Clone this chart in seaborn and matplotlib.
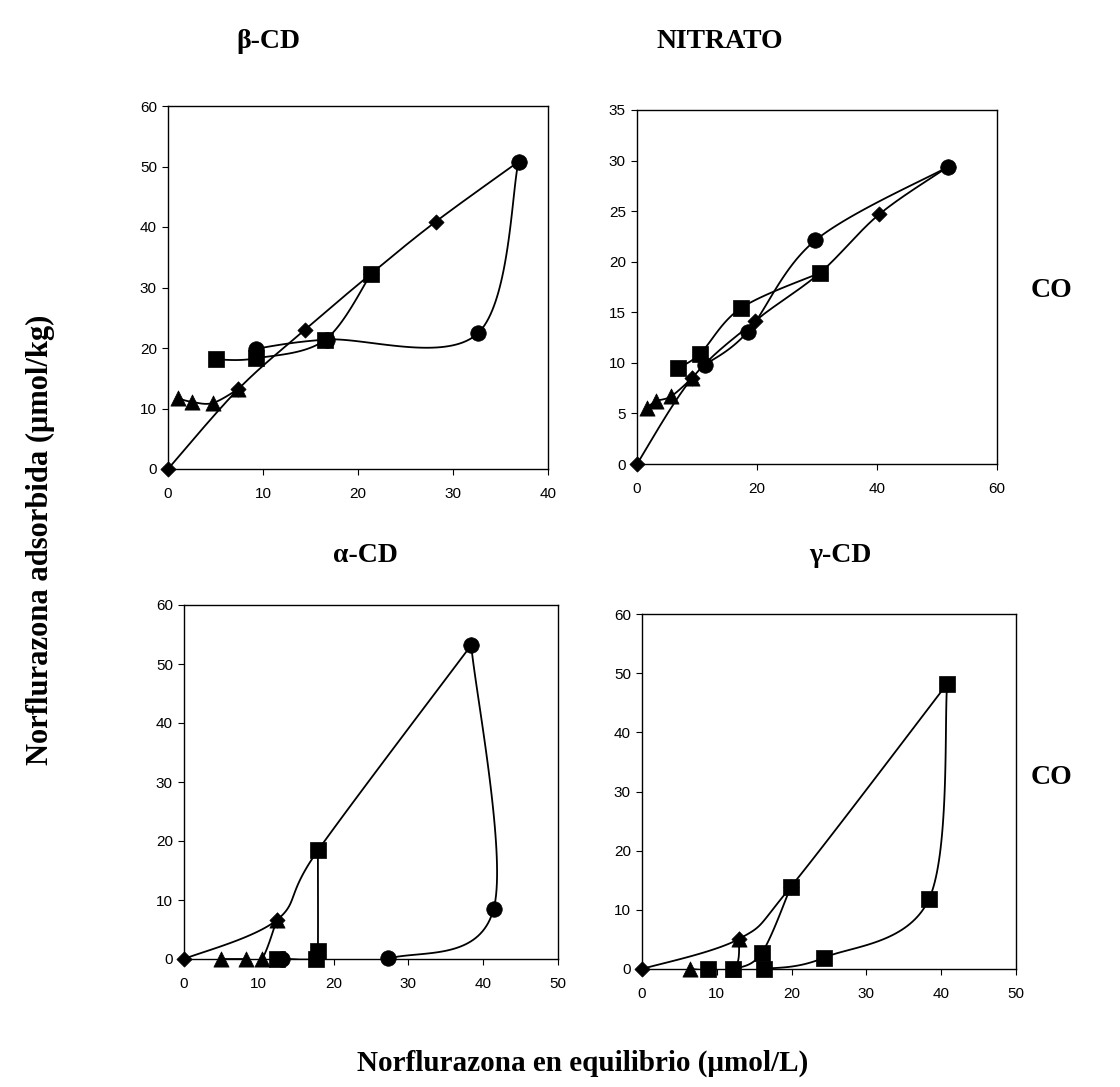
import numpy as np
import pandas as pd
import matplotlib
matplotlib.use("Agg")
import matplotlib.pyplot as plt
import seaborn as sns

# ---------------- data ----------------
# beta-CD
bcd_ads_x = [0, 7.4, 14.4, 21.4, 28.2, 36.9]
bcd_ads_y = [0, 13.2, 23.0, 32.3, 40.9, 50.8]
bcd_tri_x = [7.4, 4.7, 2.5, 1.0]
bcd_tri_y = [13.2, 10.9, 11.1, 11.7]
bcd_sq_x = [21.4, 16.5, 9.3, 5.1]
bcd_sq_y = [32.3, 21.3, 18.3, 18.1]
bcd_ci_x = [36.9, 32.6, 16.7, 9.3]
bcd_ci_y = [50.8, 22.4, 21.4, 19.9]

# NITRATO
nit_ads_x = [0, 9.2, 19.6, 30.5, 40.4, 51.9]
nit_ads_y = [0, 8.5, 14.1, 18.9, 24.7, 29.4]
nit_tri_x = [9.2, 5.7, 3.1, 1.6]
nit_tri_y = [8.5, 6.7, 6.2, 5.5]
nit_sq_x = [30.5, 17.3, 10.5, 6.8]
nit_sq_y = [18.9, 15.4, 10.9, 9.5]
nit_ci_x = [51.9, 29.7, 18.5, 11.3]
nit_ci_y = [29.4, 22.1, 13.1, 9.8]

# alpha-CD
acd_ads_x = [0, 12.4, 17.9, 38.4]
acd_ads_y = [0, 6.6, 18.4, 53.2]
acd_tri_x = [12.4, 10.4, 8.3, 5.0]
acd_tri_y = [6.6, 0, 0, 0]
acd_sq_x = [17.9, 17.9, 17.7, 12.4]
acd_sq_y = [18.4, 1.3, 0, 0]
acd_ci_x = [38.4, 41.4, 27.3, 13.1]
acd_ci_y = [53.2, 8.5, 0.1, 0]

# gamma-CD
gcd_ads_x = [0, 13.0, 19.9, 40.8]
gcd_ads_y = [0, 5.1, 13.9, 48.2]
gcd_tri_x = [13.0, 12.2, 6.4]
gcd_tri_y = [5.1, 0, 0]
gcd_sq_x = [19.9, 16.0, 12.2, 8.8]
gcd_sq_y = [13.9, 2.7, 0, 0]
gcd_sq2_x = [40.8, 38.4, 24.3, 16.3]
gcd_sq2_y = [48.2, 11.9, 1.9, 0]

titles = ["β-CD", "NITRATO", "α-CD", "γ-CD"]
ylabel = "Norflurazona adsorbida (μmol/kg)"
xlabel = "Norflurazona en equilibrio (μmol/L)"
side_label = "CO"

panels = [
    dict(series=[(bcd_ads_x, bcd_ads_y, "D"), (bcd_tri_x, bcd_tri_y, "^"),
                 (bcd_sq_x, bcd_sq_y, "s"), (bcd_ci_x, bcd_ci_y, "o")],
         xlim=(0, 40), xt=[0, 10, 20, 30, 40], ylim=(0, 60), yt=[0, 10, 20, 30, 40, 50, 60],
         rect=[168, 106, 548, 469]),
    dict(series=[(nit_ads_x, nit_ads_y, "D"), (nit_tri_x, nit_tri_y, "^"),
                 (nit_sq_x, nit_sq_y, "s"), (nit_ci_x, nit_ci_y, "o")],
         xlim=(0, 60), xt=[0, 20, 40, 60], ylim=(0, 35), yt=[0, 5, 10, 15, 20, 25, 30, 35],
         rect=[637, 110, 997, 464]),
    dict(series=[(acd_ads_x, acd_ads_y, "D"), (acd_tri_x, acd_tri_y, "^"),
                 (acd_sq_x, acd_sq_y, "s"), (acd_ci_x, acd_ci_y, "o")],
         xlim=(0, 50), xt=[0, 10, 20, 30, 40, 50], ylim=(0, 60), yt=[0, 10, 20, 30, 40, 50, 60],
         rect=[184, 605, 558, 959]),
    dict(series=[(gcd_ads_x, gcd_ads_y, "D"), (gcd_tri_x, gcd_tri_y, "^"),
                 (gcd_sq_x, gcd_sq_y, "s"), (gcd_sq2_x, gcd_sq2_y, "s")],
         xlim=(0, 50), xt=[0, 10, 20, 30, 40, 50], ylim=(0, 60), yt=[0, 10, 20, 30, 40, 50, 60],
         rect=[642, 614, 1016, 969]),
]


def smooth(xs, ys, n=40):
    """Excel-style smoothed line (Bezier with Catmull-Rom control points)."""
    P = np.column_stack([xs, ys]).astype(float)
    if len(P) < 3:
        return P[:, 0], P[:, 1]
    ext = np.vstack([P[0], P, P[-1]])
    out = []
    t = np.linspace(0, 1, n)[:, None]
    for i in range(1, len(ext) - 2):
        p0, p1, p2, p3 = ext[i - 1], ext[i], ext[i + 1], ext[i + 2]
        b1 = p1 + (p2 - p0) / 6.0
        b2 = p2 - (p3 - p1) / 6.0
        seg = ((1 - t) ** 3) * p1 + 3 * ((1 - t) ** 2) * t * b1 + 3 * (1 - t) * t ** 2 * b2 + t ** 3 * p2
        out.append(seg if i == 1 else seg[1:])
    S = np.vstack(out)
    return S[:, 0], S[:, 1]


sns.set_style("ticks")
plt.rcParams["font.family"] = ["Liberation Sans", "DejaVu Sans"]
plt.rcParams["text.color"] = "black"

W, H = 1120, 1087
fig = plt.figure(figsize=(W / 100, H / 100), dpi=100)

msize = {"D": 60, "^": 120, "s": 130, "o": 125}
order = {"D": 0, "^": 1, "o": 2, "s": 3}

for p in panels:
    l, t, r, b = p["rect"]
    ax = fig.add_axes([l / W, 1 - b / H, (r - l) / W, (b - t) / H])
    # lines
    for k, (xs, ys, m) in enumerate(p["series"]):
        sx, sy = smooth(xs, ys)
        df = pd.DataFrame({"x": sx, "y": sy})
        sns.lineplot(data=df, x="x", y="y", sort=False, estimator=None, color="black",
                     lw=1.3, ax=ax, legend=False, zorder=2)
    # markers
    for xs, ys, m in sorted(p["series"], key=lambda s: order[s[2]]):
        df = pd.DataFrame({"x": xs, "y": ys})
        sns.scatterplot(data=df, x="x", y="y", marker=m, s=msize[m], color="black",
                        edgecolor="black", linewidth=0.5, ax=ax, legend=False,
                        zorder=3 + order[m], clip_on=False)
    ax.set_xlim(*p["xlim"])
    ax.set_ylim(*p["ylim"])
    ax.set_xticks(p["xt"])
    ax.set_yticks(p["yt"])
    ax.set_xlabel("")
    ax.set_ylabel("")
    for s in ax.spines.values():
        s.set_visible(True)
        s.set_color("black")
        s.set_linewidth(1.0)
    ax.tick_params(axis="both", direction="out", length=4, width=0.8, labelsize=11,
                   colors="black", pad=9)
    ax.tick_params(axis="y", pad=4)
    ax.set_facecolor("white")

serif = ["Liberation Serif", "DejaVu Serif"]
tkw = dict(fontsize=20, fontweight="bold", family=serif, ha="center", va="center",
           color="black")
fig.text(268 / W, 1 - 42 / H, titles[0], **tkw)
fig.text(720 / W, 1 - 42 / H, titles[1], **tkw)
fig.text(365 / W, 1 - 555 / H, titles[2], **tkw)
fig.text(840 / W, 1 - 555 / H, titles[3], **tkw)
fig.text(1052 / W, 1 - 290 / H, side_label, **tkw)
fig.text(1052 / W, 1 - 777 / H, side_label, **tkw)
fig.text(40 / W, 1 - 540 / H, ylabel, rotation=90, **dict(tkw, fontsize=22))
fig.text(583 / W, 1 - 1063 / H, xlabel, **dict(tkw, fontsize=21))

fig.savefig("out.png", dpi=100, facecolor="white")
